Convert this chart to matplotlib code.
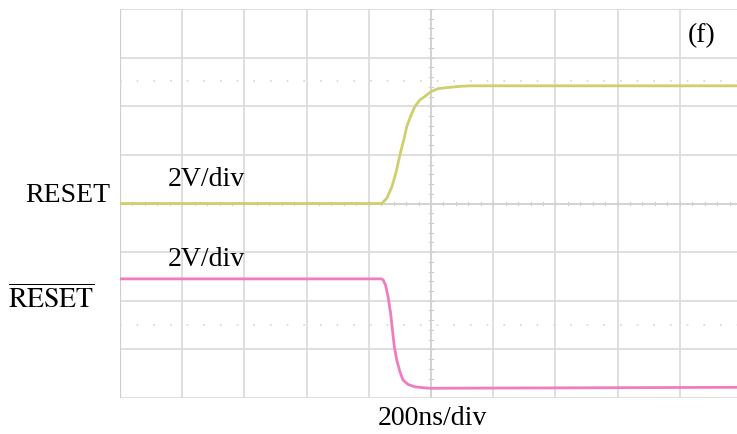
import numpy as np
import matplotlib
matplotlib.use("Agg")
import matplotlib.pyplot as plt

# time in divisions (200ns/div), level in divisions from bottom of screen
reset_t = [0.0, 4.21, 4.29, 4.37, 4.44, 4.50, 4.57, 4.61, 4.68, 4.74, 4.82, 4.89, 5.00, 5.11, 5.23, 5.47, 5.63, 9.92]
reset_v = [4.0, 4.0, 4.11, 4.34, 4.65, 5.00, 5.35, 5.58, 5.82, 5.99, 6.13, 6.19, 6.30, 6.36, 6.38, 6.41, 6.42, 6.42]

nreset_t = [0.0, 4.20, 4.23, 4.27, 4.31, 4.35, 4.38, 4.41, 4.45, 4.50, 4.55, 4.63, 4.74, 4.88, 5.00, 9.92]
nreset_v = [2.45, 2.45, 2.43, 2.32, 2.08, 1.75, 1.40, 1.06, 0.78, 0.54, 0.37, 0.28, 0.23, 0.21, 0.20, 0.22]

cursor_levels = [6.52, 1.5]

fig = plt.figure(figsize=(7.37, 4.34), dpi=100)
ax = fig.add_axes([120/737, 36/434, 617/737, 389/434])
ax.set_xlim(0, 617/62.2)
ax.set_ylim(0, 8)
ax.axis("off")

grid_c = "#dcdcdc"
for i in range(0, 11):
    ax.axvline(i, color=grid_c, lw=1.3, zorder=1)
for j in range(0, 9):
    ax.axhline(j, color=grid_c, lw=1.3, zorder=1)
ax.axvline(0, color="#cfcfcf", lw=1.6, zorder=1)

# minor ticks on the centre crosshair
for t in np.arange(0, 10.01, 0.2):
    ax.plot([t, t], [3.96, 4.04], color="#cccccc", lw=0.8, zorder=1)
for t in np.arange(0, 8.01, 0.2):
    ax.plot([4.96, 5.04], [t, t], color="#cccccc", lw=0.8, zorder=1)
ax.axhline(4, color="#d2d2d2", lw=1.3, zorder=1)
ax.axvline(5, color="#d2d2d2", lw=1.3, zorder=1)

for lv in cursor_levels:
    ax.axhline(lv, color="#d4d4d4", lw=1.2, ls=(0, (1, 9)), zorder=1)

ax.plot(reset_t, reset_v, color="#cfcf6e", lw=2.0, zorder=3)
ax.plot(nreset_t, nreset_v, color="#f07cc0", lw=2.0, zorder=3)

font = dict(family="Liberation Serif", fontsize=20, color="black")
fig.text(110/737, 1 - 202/434, "RESET", ha="right", va="baseline", **font)
fig.text(8/737, 1 - 308/434, r"$\overline{\mathrm{RESET}}$", ha="left", va="baseline",
         math_fontfamily="stix", family="Liberation Serif", fontsize=20)
fig.text(168/737, 1 - 186/434, "2V/div", ha="left", va="baseline", **font)
fig.text(168/737, 1 - 266/434, "2V/div", ha="left", va="baseline", **font)
fig.text(432/737, 1 - 425/434, "200ns/div", ha="center", va="baseline", **font)
fig.text(688/737, 1 - 42/434, "(f)", ha="left", va="baseline", **font)

fig.savefig("out.png", dpi=100)
